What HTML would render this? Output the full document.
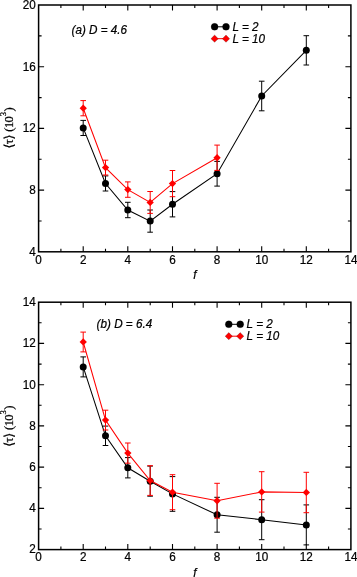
<!DOCTYPE html>
<html><head><meta charset="utf-8"><title>figure</title>
<style>html,body{margin:0;padding:0;background:#fff}svg{display:block}</style></head>
<body>
<svg width="357" height="577" viewBox="0 0 357 577">
<rect width="357" height="577" fill="#fff"/>
<polyline points="83.2,127.9 105.5,183.5 127.8,210.0 150.2,221.1 172.5,204.3 217.1,173.7 261.7,96.0 306.3,50.3" fill="none" stroke="#000" stroke-width="1.05"/>
<path d="M83.2 120.4V135.5M80.4 120.4h5.6M80.4 135.5h5.6" stroke="#000" stroke-width="1" fill="none"/>
<circle cx="83.2" cy="127.9" r="3.5" fill="#000"/>
<path d="M105.5 175.9V191.0M102.7 175.9h5.6M102.7 191.0h5.6" stroke="#000" stroke-width="1" fill="none"/>
<circle cx="105.5" cy="183.5" r="3.5" fill="#000"/>
<path d="M127.8 202.3V217.7M125.0 202.3h5.6M125.0 217.7h5.6" stroke="#000" stroke-width="1" fill="none"/>
<circle cx="127.8" cy="210.0" r="3.5" fill="#000"/>
<path d="M150.2 210.0V232.2M147.3 210.0h5.6M147.3 232.2h5.6" stroke="#000" stroke-width="1" fill="none"/>
<circle cx="150.2" cy="221.1" r="3.5" fill="#000"/>
<path d="M172.5 191.6V216.9M169.7 191.6h5.6M169.7 216.9h5.6" stroke="#000" stroke-width="1" fill="none"/>
<circle cx="172.5" cy="204.3" r="3.5" fill="#000"/>
<path d="M217.1 161.4V186.1M214.3 161.4h5.6M214.3 186.1h5.6" stroke="#000" stroke-width="1" fill="none"/>
<circle cx="217.1" cy="173.7" r="3.5" fill="#000"/>
<path d="M261.7 81.2V110.8M258.9 81.2h5.6M258.9 110.8h5.6" stroke="#000" stroke-width="1" fill="none"/>
<circle cx="261.7" cy="96.0" r="3.5" fill="#000"/>
<path d="M306.3 35.7V65.0M303.5 35.7h5.6M303.5 65.0h5.6" stroke="#000" stroke-width="1" fill="none"/>
<circle cx="306.3" cy="50.3" r="3.5" fill="#000"/>
<polyline points="83.2,108.2 105.5,167.6 127.8,189.6 150.2,202.4 172.5,183.6 217.1,157.7" fill="none" stroke="#f00" stroke-width="1.05"/>
<path d="M83.2 100.6V115.8M80.4 100.6h5.6M80.4 115.8h5.6" stroke="#f00" stroke-width="1" fill="none"/>
<path d="M83.2 104.5L86.9 108.2L83.2 111.8L79.6 108.2Z" fill="#f00"/>
<path d="M105.5 160.2V175.0M102.7 160.2h5.6M102.7 175.0h5.6" stroke="#f00" stroke-width="1" fill="none"/>
<path d="M105.5 163.9L109.2 167.6L105.5 171.2L101.9 167.6Z" fill="#f00"/>
<path d="M127.8 181.9V197.3M125.0 181.9h5.6M125.0 197.3h5.6" stroke="#f00" stroke-width="1" fill="none"/>
<path d="M127.8 186.0L131.5 189.6L127.8 193.3L124.2 189.6Z" fill="#f00"/>
<path d="M150.2 191.5V213.4M147.3 191.5h5.6M147.3 213.4h5.6" stroke="#f00" stroke-width="1" fill="none"/>
<path d="M150.2 198.8L153.8 202.4L150.2 206.1L146.5 202.4Z" fill="#f00"/>
<path d="M172.5 170.5V196.7M169.7 170.5h5.6M169.7 196.7h5.6" stroke="#f00" stroke-width="1" fill="none"/>
<path d="M172.5 180.0L176.1 183.6L172.5 187.3L168.8 183.6Z" fill="#f00"/>
<path d="M217.1 145.1V170.4M214.3 145.1h5.6M214.3 170.4h5.6" stroke="#f00" stroke-width="1" fill="none"/>
<path d="M217.1 154.1L220.7 157.7L217.1 161.4L213.4 157.7Z" fill="#f00"/>
<rect x="38.6" y="5.0" width="312.3" height="246.8" fill="none" stroke="#000" stroke-width="1.5"/>
<path d="M60.9 251.8v-3M60.9 5.0v3M83.2 251.8v-5.5M83.2 5.0v5.5M105.5 251.8v-3M105.5 5.0v3M127.8 251.8v-5.5M127.8 5.0v5.5M150.2 251.8v-3M150.2 5.0v3M172.5 251.8v-5.5M172.5 5.0v5.5M194.8 251.8v-3M194.8 5.0v3M217.1 251.8v-5.5M217.1 5.0v5.5M239.4 251.8v-3M239.4 5.0v3M261.7 251.8v-5.5M261.7 5.0v5.5M284.0 251.8v-3M284.0 5.0v3M306.3 251.8v-5.5M306.3 5.0v5.5M328.6 251.8v-3M328.6 5.0v3M38.6 221.0h3M350.9 221.0h-3M38.6 190.1h5.5M350.9 190.1h-5.5M38.6 159.2h3M350.9 159.2h-3M38.6 128.4h5.5M350.9 128.4h-5.5M38.6 97.6h3M350.9 97.6h-3M38.6 66.7h5.5M350.9 66.7h-5.5M38.6 35.9h3M350.9 35.9h-3" stroke="#000" stroke-width="1.1" fill="none"/>
<g font-family='"Liberation Sans", "DejaVu Sans", sans-serif' font-size="12.2" fill="#000" stroke="#000" stroke-width="0.22">
<text transform="translate(38.6 263.5) scale(0.96 1)" text-anchor="middle">0</text>
<text transform="translate(83.2 263.5) scale(0.96 1)" text-anchor="middle">2</text>
<text transform="translate(127.8 263.5) scale(0.96 1)" text-anchor="middle">4</text>
<text transform="translate(172.5 263.5) scale(0.96 1)" text-anchor="middle">6</text>
<text transform="translate(217.1 263.5) scale(0.96 1)" text-anchor="middle">8</text>
<text transform="translate(261.7 263.5) scale(0.96 1)" text-anchor="middle">10</text>
<text transform="translate(306.3 263.5) scale(0.96 1)" text-anchor="middle">12</text>
<text transform="translate(350.9 263.5) scale(0.96 1)" text-anchor="middle">14</text>
<text transform="translate(35.8 255.6) scale(0.96 1)" text-anchor="end">4</text>
<text transform="translate(35.8 193.9) scale(0.96 1)" text-anchor="end">8</text>
<text transform="translate(35.8 132.2) scale(0.96 1)" text-anchor="end">12</text>
<text transform="translate(35.8 70.5) scale(0.96 1)" text-anchor="end">16</text>
<text transform="translate(35.8 8.8) scale(0.96 1)" text-anchor="end">20</text>
<text transform="translate(194.8 279.1) scale(0.96 1)" text-anchor="middle" font-style="italic">f</text>
<text transform="translate(71.5 33.8) scale(0.96 1)" font-style="italic">(a) D = 4.6</text>
<path d="M214.6 26.8h11.4" stroke="#000" stroke-width="1"/>
<circle cx="214.6" cy="26.8" r="3.5" fill="#000"/>
<circle cx="226.0" cy="26.8" r="3.5" fill="#000"/>
<text transform="translate(232.4 30.6) scale(0.96 1)" font-style="italic">L = 2</text>
<path d="M214.6 38.7h11.4" stroke="#f00" stroke-width="1"/>
<path d="M214.6 35.050000000000004L218.25 38.7L214.6 42.35L210.95 38.7Z" fill="#f00"/>
<path d="M226.0 35.050000000000004L229.65 38.7L226.0 42.35L222.35 38.7Z" fill="#f00"/>
<text transform="translate(232.4 42.5) scale(0.96 1)" font-style="italic">L = 10</text>
</g>
<text transform="translate(13.3 128.3) rotate(-90)" font-family='"Liberation Serif", "DejaVu Serif", serif' font-size="12.6" fill="#000" stroke="#000" stroke-width="0.25" x="-20.2 -15.9 -11.2 -5 -3.5 0.2 5.8 12.0 16.7" y="0 0 0 0 0 0 0 -7.5 0"><tspan font-family="DejaVu Sans, sans-serif" font-size="12.6">⟨</tspan>τ<tspan font-family="DejaVu Sans, sans-serif" font-size="12.6">⟩</tspan> (10<tspan font-size="8.5">3</tspan>)</text>
<polyline points="83.2,366.9 105.5,435.8 127.8,467.8 150.2,481.2 172.5,493.9 217.1,514.8 261.7,519.7 306.3,524.9" fill="none" stroke="#000" stroke-width="1.05"/>
<path d="M83.2 356.9V376.9M80.4 356.9h5.6M80.4 376.9h5.6" stroke="#000" stroke-width="1" fill="none"/>
<circle cx="83.2" cy="366.9" r="3.5" fill="#000"/>
<path d="M105.5 426.1V445.5M102.7 426.1h5.6M102.7 445.5h5.6" stroke="#000" stroke-width="1" fill="none"/>
<circle cx="105.5" cy="435.8" r="3.5" fill="#000"/>
<path d="M127.8 457.6V477.9M125.0 457.6h5.6M125.0 477.9h5.6" stroke="#000" stroke-width="1" fill="none"/>
<circle cx="127.8" cy="467.8" r="3.5" fill="#000"/>
<path d="M150.2 466.1V496.2M147.3 466.1h5.6M147.3 496.2h5.6" stroke="#000" stroke-width="1" fill="none"/>
<circle cx="150.2" cy="481.2" r="3.5" fill="#000"/>
<path d="M172.5 476.6V511.3M169.7 476.6h5.6M169.7 511.3h5.6" stroke="#000" stroke-width="1" fill="none"/>
<circle cx="172.5" cy="493.9" r="3.5" fill="#000"/>
<path d="M217.1 497.3V532.2M214.3 497.3h5.6M214.3 532.2h5.6" stroke="#000" stroke-width="1" fill="none"/>
<circle cx="217.1" cy="514.8" r="3.5" fill="#000"/>
<path d="M261.7 499.7V539.7M258.9 499.7h5.6M258.9 539.7h5.6" stroke="#000" stroke-width="1" fill="none"/>
<circle cx="261.7" cy="519.7" r="3.5" fill="#000"/>
<path d="M306.3 504.9V544.9M303.5 504.9h5.6M303.5 544.9h5.6" stroke="#000" stroke-width="1" fill="none"/>
<circle cx="306.3" cy="524.9" r="3.5" fill="#000"/>
<polyline points="83.2,342.0 105.5,420.1 127.8,453.1 150.2,480.5 172.5,492.2 217.1,500.7 261.7,491.9 306.3,492.5" fill="none" stroke="#f00" stroke-width="1.05"/>
<path d="M83.2 332.1V351.9M80.4 332.1h5.6M80.4 351.9h5.6" stroke="#f00" stroke-width="1" fill="none"/>
<path d="M83.2 338.3L86.9 342.0L83.2 345.6L79.6 342.0Z" fill="#f00"/>
<path d="M105.5 410.2V430.0M102.7 410.2h5.6M102.7 430.0h5.6" stroke="#f00" stroke-width="1" fill="none"/>
<path d="M105.5 416.5L109.2 420.1L105.5 423.8L101.9 420.1Z" fill="#f00"/>
<path d="M127.8 443.0V463.2M125.0 443.0h5.6M125.0 463.2h5.6" stroke="#f00" stroke-width="1" fill="none"/>
<path d="M127.8 449.5L131.5 453.1L127.8 456.8L124.2 453.1Z" fill="#f00"/>
<path d="M150.2 465.7V495.4M147.3 465.7h5.6M147.3 495.4h5.6" stroke="#f00" stroke-width="1" fill="none"/>
<path d="M150.2 476.9L153.8 480.5L150.2 484.2L146.5 480.5Z" fill="#f00"/>
<path d="M172.5 474.7V509.7M169.7 474.7h5.6M169.7 509.7h5.6" stroke="#f00" stroke-width="1" fill="none"/>
<path d="M172.5 488.5L176.1 492.2L172.5 495.8L168.8 492.2Z" fill="#f00"/>
<path d="M217.1 483.3V518.2M214.3 483.3h5.6M214.3 518.2h5.6" stroke="#f00" stroke-width="1" fill="none"/>
<path d="M217.1 497.1L220.7 500.7L217.1 504.4L213.4 500.7Z" fill="#f00"/>
<path d="M261.7 471.7V512.1M258.9 471.7h5.6M258.9 512.1h5.6" stroke="#f00" stroke-width="1" fill="none"/>
<path d="M261.7 488.2L265.3 491.9L261.7 495.5L258.1 491.9Z" fill="#f00"/>
<path d="M306.3 472.3V512.7M303.5 472.3h5.6M303.5 512.7h5.6" stroke="#f00" stroke-width="1" fill="none"/>
<path d="M306.3 488.8L310.0 492.5L306.3 496.1L302.7 492.5Z" fill="#f00"/>
<rect x="38.6" y="302.2" width="312.3" height="247.4" fill="none" stroke="#000" stroke-width="1.5"/>
<path d="M60.9 549.6v-3M60.9 302.2v3M83.2 549.6v-5.5M83.2 302.2v5.5M105.5 549.6v-3M105.5 302.2v3M127.8 549.6v-5.5M127.8 302.2v5.5M150.2 549.6v-3M150.2 302.2v3M172.5 549.6v-5.5M172.5 302.2v5.5M194.8 549.6v-3M194.8 302.2v3M217.1 549.6v-5.5M217.1 302.2v5.5M239.4 549.6v-3M239.4 302.2v3M261.7 549.6v-5.5M261.7 302.2v5.5M284.0 549.6v-3M284.0 302.2v3M306.3 549.6v-5.5M306.3 302.2v5.5M328.6 549.6v-3M328.6 302.2v3M38.6 529.0h3M350.9 529.0h-3M38.6 508.4h5.5M350.9 508.4h-5.5M38.6 487.8h3M350.9 487.8h-3M38.6 467.1h5.5M350.9 467.1h-5.5M38.6 446.5h3M350.9 446.5h-3M38.6 425.9h5.5M350.9 425.9h-5.5M38.6 405.3h3M350.9 405.3h-3M38.6 384.7h5.5M350.9 384.7h-5.5M38.6 364.1h3M350.9 364.1h-3M38.6 343.4h5.5M350.9 343.4h-5.5M38.6 322.8h3M350.9 322.8h-3" stroke="#000" stroke-width="1.1" fill="none"/>
<g font-family='"Liberation Sans", "DejaVu Sans", sans-serif' font-size="12.2" fill="#000" stroke="#000" stroke-width="0.22">
<text transform="translate(38.6 561.3) scale(0.96 1)" text-anchor="middle">0</text>
<text transform="translate(83.2 561.3) scale(0.96 1)" text-anchor="middle">2</text>
<text transform="translate(127.8 561.3) scale(0.96 1)" text-anchor="middle">4</text>
<text transform="translate(172.5 561.3) scale(0.96 1)" text-anchor="middle">6</text>
<text transform="translate(217.1 561.3) scale(0.96 1)" text-anchor="middle">8</text>
<text transform="translate(261.7 561.3) scale(0.96 1)" text-anchor="middle">10</text>
<text transform="translate(306.3 561.3) scale(0.96 1)" text-anchor="middle">12</text>
<text transform="translate(350.9 561.3) scale(0.96 1)" text-anchor="middle">14</text>
<text transform="translate(35.8 553.4) scale(0.96 1)" text-anchor="end">2</text>
<text transform="translate(35.8 512.2) scale(0.96 1)" text-anchor="end">4</text>
<text transform="translate(35.8 470.9) scale(0.96 1)" text-anchor="end">6</text>
<text transform="translate(35.8 429.7) scale(0.96 1)" text-anchor="end">8</text>
<text transform="translate(35.8 388.5) scale(0.96 1)" text-anchor="end">10</text>
<text transform="translate(35.8 347.2) scale(0.96 1)" text-anchor="end">12</text>
<text transform="translate(35.8 306.0) scale(0.96 1)" text-anchor="end">14</text>
<text transform="translate(194.8 576.9) scale(0.96 1)" text-anchor="middle" font-style="italic">f</text>
<text transform="translate(96.6 327.9) scale(0.96 1)" font-style="italic">(b) D = 6.4</text>
<path d="M228.8 324.3h11.4" stroke="#000" stroke-width="1"/>
<circle cx="228.8" cy="324.3" r="3.5" fill="#000"/>
<circle cx="240.20000000000002" cy="324.3" r="3.5" fill="#000"/>
<text transform="translate(246.6 328.1) scale(0.96 1)" font-style="italic">L = 2</text>
<path d="M228.8 336.2h11.4" stroke="#f00" stroke-width="1"/>
<path d="M228.8 332.55L232.45000000000002 336.2L228.8 339.84999999999997L225.15 336.2Z" fill="#f00"/>
<path d="M240.20000000000002 332.55L243.85000000000002 336.2L240.20000000000002 339.84999999999997L236.55 336.2Z" fill="#f00"/>
<text transform="translate(246.6 340.0) scale(0.96 1)" font-style="italic">L = 10</text>
</g>
<text transform="translate(13.3 426.5) rotate(-90)" font-family='"Liberation Serif", "DejaVu Serif", serif' font-size="12.6" fill="#000" stroke="#000" stroke-width="0.25" x="-20.2 -15.9 -11.2 -5 -3.5 0.2 5.8 12.0 16.7" y="0 0 0 0 0 0 0 -7.5 0"><tspan font-family="DejaVu Sans, sans-serif" font-size="12.6">⟨</tspan>τ<tspan font-family="DejaVu Sans, sans-serif" font-size="12.6">⟩</tspan> (10<tspan font-size="8.5">3</tspan>)</text>
</svg>
</body></html>
